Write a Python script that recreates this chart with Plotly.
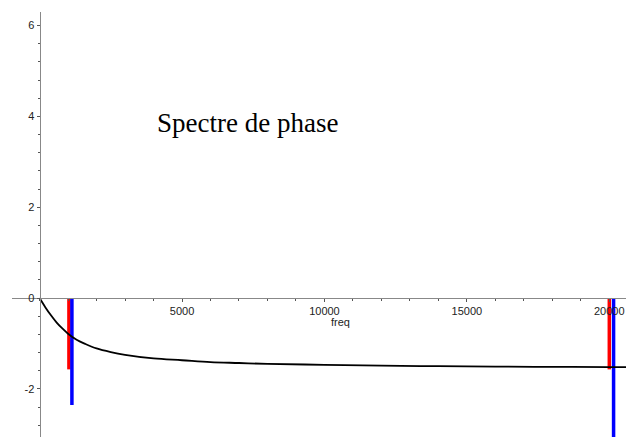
import plotly.graph_objects as go

# Phase curve (freq in Hz, phase in rad)
curve_freq = [0, 200, 400, 600, 800, 1000, 1300, 1600, 2000, 2500, 3000, 4000, 5000,
              6000, 7000, 8000, 10000, 12000, 14000, 16000, 18000, 20000, 20867]
curve_phase = [0, -0.20, -0.38, -0.54, -0.67, -0.785, -0.92, -1.01, -1.11, -1.19, -1.25,
               -1.33, -1.37, -1.41, -1.43, -1.45, -1.47, -1.49, -1.50, -1.51, -1.515,
               -1.52, -1.523]

# Spectral lines
red_freq = [1030, 20000]
red_phase = [-1.5708, -1.5708]
blue_freq = [1135, 20150]
blue_phase = [-2.356, -3.1416]

x_ticks = [5000, 10000, 15000, 20000]
x_ticktext = ["5000", "10000", "15000", "20000"]
y_ticks = [-2, 0, 2, 4, 6]
y_ticktext = ["-2", "0", "2", "4", "6"]
title_text = "Spectre de phase"
x_label = "freq"

x_range = [-968, 20867]
y_range = [-3.06, 6.30]


def stems(xs, ys):
    sx, sy = [], []
    for x, y in zip(xs, ys):
        sx += [x, x, None]
        sy += [0, y, None]
    return sx, sy


fig = go.Figure()
rx, ry = stems(red_freq, red_phase)
bx, by = stems(blue_freq, blue_phase)
fig.add_trace(go.Scatter(x=rx, y=ry, mode="lines", line=dict(color="#ff0000", width=3.5),
                         hoverinfo="skip", showlegend=False))
fig.add_trace(go.Scatter(x=bx, y=by, mode="lines", line=dict(color="#0000ff", width=3.5),
                         hoverinfo="skip", showlegend=False))
fig.add_trace(go.Scatter(x=curve_freq, y=curve_phase, mode="lines",
                         line=dict(color="black", width=1.8, shape="spline"),
                         showlegend=False))

ypos = (0 - x_range[0]) / (x_range[1] - x_range[0])
xpos = (0 - y_range[0]) / (y_range[1] - y_range[0])

tickfont = dict(family="Liberation Sans, Arial, sans-serif", size=11, color="#222")

fig.update_layout(
    width=626, height=429,
    margin=dict(l=4, r=0, t=4, b=0, autoexpand=False),
    paper_bgcolor="white", plot_bgcolor="white",
    xaxis=dict(range=x_range, anchor="free", position=xpos, side="bottom",
               automargin=False,
               showgrid=False, zeroline=False, showline=True, linecolor="#888", linewidth=1,
               tickmode="array", tickvals=x_ticks, ticktext=x_ticktext,
               ticks="outside", ticklen=3,
               tickcolor="#555", tickfont=tickfont,
               minor=dict(tickmode="linear", tick0=0, dtick=1000, ticks="outside",
                          ticklen=2, tickcolor="#555"),
               fixedrange=True),
    yaxis=dict(range=y_range, anchor="free", position=ypos, side="left",
               automargin=False,
               showgrid=False, zeroline=False, showline=True, linecolor="#888", linewidth=1,
               tickmode="array", tickvals=y_ticks, ticktext=y_ticktext,
               ticks="outside", ticklen=3,
               tickcolor="#555", tickfont=tickfont,
               minor=dict(tickmode="linear", tick0=0, dtick=0.4, ticks="outside",
                          ticklen=2, tickcolor="#555"),
               fixedrange=True),
    annotations=[
        dict(x=7305, y=3.845, xref="x", yref="y", text=title_text, showarrow=False,
             xanchor="center", yanchor="middle",
             font=dict(family="Liberation Serif, Times New Roman, serif", size=27, color="black")),
        dict(x=10551, y=-0.522, xref="x", yref="y", text=x_label, showarrow=False,
             xanchor="center", yanchor="middle", font=tickfont),
    ],
)

fig.write_html("out.html")
